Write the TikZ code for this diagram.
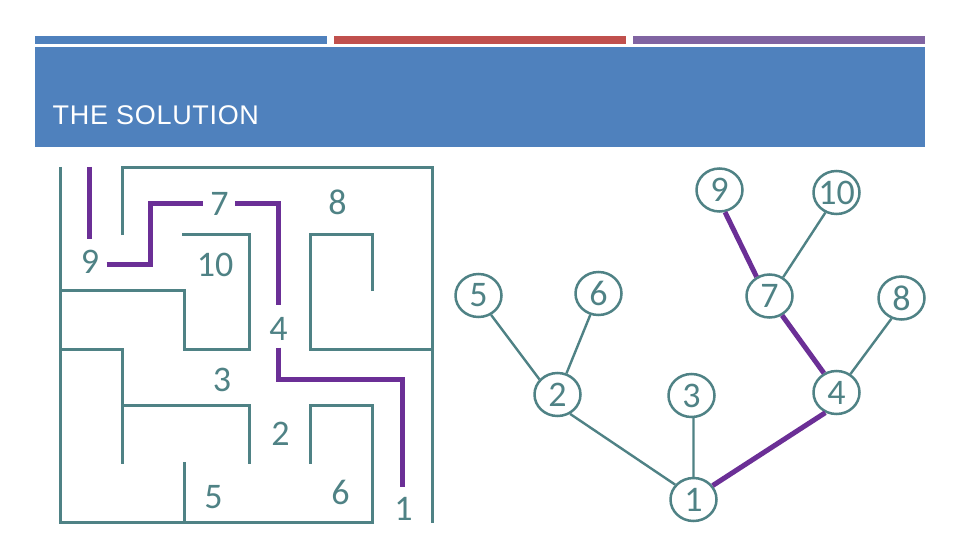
\documentclass[tikz,border=0pt]{standalone}
\usepackage{fontspec}
\setmainfont{Carlito}
\newfontfamily\headfont[LetterSpace=2.5]{Liberation Sans}
\usetikzlibrary{shapes.geometric}
\definecolor{hblue}{HTML}{4F81BD}
\definecolor{hred}{HTML}{C0504D}
\definecolor{hpurple}{HTML}{8064A2}
\definecolor{teal2}{HTML}{4F8285}
\definecolor{path2}{HTML}{6B2F96}
\tikzset{
  bar/.style={fill=#1,draw=none},
  wall/.style={draw=teal2,line width=3pt,line cap=butt,line join=miter},
  route/.style={draw=path2,line width=5pt,line join=miter},
  mlabel/.style={text=teal2,font=\fontsize{36}{36}\selectfont,inner sep=0pt},
  tnode/.style={ellipse,draw=teal2,line width=2.5pt,minimum width=46pt,minimum height=43pt,inner sep=0pt,text=teal2,font=\fontsize{36}{36}\selectfont},
  tedge/.style={draw=teal2,line width=2.4pt},
  tpath/.style={draw=path2,line width=5pt},
}
\begin{document}
\begin{tikzpicture}[x=1pt,y=-1pt]
\useasboundingbox (0,0) rectangle (960,540);
\fill[white] (0,0) rectangle (960,540);
% header
\path[bar=hblue] (35,36) rectangle (327,44);
\path[bar=hred] (334,36) rectangle (626,44);
\path[bar=hpurple] (633,36) rectangle (925,44);
\path[bar=hblue] (35,47) rectangle (925,147);
\node[anchor=base west,inner sep=0pt,text=white,font=\headfont\fontsize{27}{27}\selectfont] (title) at (52.5,124.3) {THE SOLUTION};
% maze walls
\draw[wall] (60,167) -- (60,522) -- (372,522) -- (372,405) -- (310.5,405) -- (310.5,463.5);
\draw[wall] (122,235) -- (122,168) -- (432.5,168) -- (432.5,523);
\draw[wall] (182,234.5) -- (249,234.5) -- (249,349.5) -- (184,349.5) -- (184,290) -- (60,290);
\draw[wall] (372,291) -- (372,234.5) -- (310.5,234.5) -- (310.5,349.5) -- (432.5,349.5);
\draw[wall] (60,349.5) -- (122.5,349.5) -- (122.5,463.5);
\draw[wall] (122.5,405) -- (249,405) -- (249,463.5);
\draw[wall] (184,462) -- (184,522);
% maze route
\draw[route] (89,167) -- (89,238.5);
\draw[route] (106.5,264) -- (150,264) -- (150,203.5) -- (203,203.5);
\draw[route] (235,203.5) -- (278,203.5) -- (278,304.5);
\draw[route] (278,347.5) -- (278,379) -- (402,379) -- (402,487);
% maze labels
\node[mlabel] (m9) at (90,262) {9};
\node[mlabel] (m7) at (219.5,204) {7};
\node[mlabel] (m8) at (337.5,202.5) {8};
\node[mlabel] (m10) at (215,265) {10};
\node[mlabel] (m4) at (278.5,329) {4};
\node[mlabel] (m3) at (222,379.5) {3};
\node[mlabel] (m2) at (280.5,433.5) {2};
\node[mlabel] (m5) at (213.5,497) {5};
\node[mlabel] (m6) at (340.5,492.5) {6};
\node[mlabel] (m1) at (403.5,509) {1};
% tree
\node[tnode] (t9) at (719.5,190) {9};
\node[tnode] (t10) at (836.5,192.5) {\makebox[0pt]{10}};
\node[tnode] (t5) at (478.5,295.5) {5};
\node[tnode] (t6) at (598.5,293.5) {6};
\node[tnode] (t7) at (769.5,296) {7};
\node[tnode] (t8) at (901.5,298) {8};
\node[tnode] (t2) at (557.5,394.5) {2};
\node[tnode] (t3) at (691.5,395.5) {3};
\node[tnode] (t4) at (836.5,392.5) {4};
\node[tnode] (t1) at (693.5,499.5) {1};
\draw[tedge] (t5.-57) -- (t2.140);
\draw[tedge] (t6.-111) -- (t2.67);
\draw[tedge] (t2.-57) -- (t1.141);
\draw[tedge] (t3.-85) -- (t1.90);
\draw[tedge] (t10.-119) -- (t7.54);
\draw[tedge] (t8.-116) -- (t4.53);
\draw[tpath] (t9.-76) -- (t7.124);
\draw[tpath] (t7.-57) -- (t4.123);
\draw[tpath] (t4.-119) -- (t1.36);
\end{tikzpicture}
\end{document}
